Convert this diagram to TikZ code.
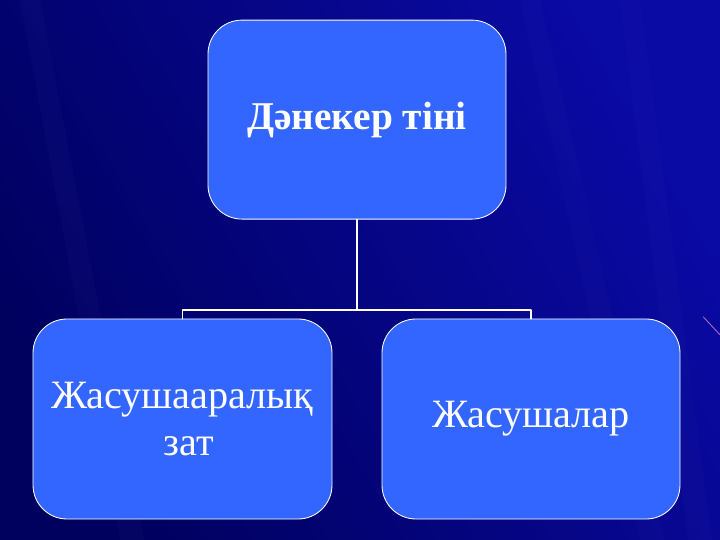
\documentclass[tikz,border=0pt]{standalone}
\usepackage{fontspec}
\setmainfont{Liberation Serif}
\definecolor{boxblue}{RGB}{51,102,255}
\definecolor{bgdark}{RGB}{0,0,95}
\definecolor{bglight}{RGB}{10,10,165}
\begin{document}
\begin{tikzpicture}[line join=round,line cap=round,
		box/.style={draw=white,line width=0.6pt,fill=boxblue,rounded corners=0.85cm,text=white,align=center,font=\fontsize{28.6}{34}\selectfont},
		wire/.style={draw=white,line width=1.2pt}]
			% background
			\shade[left color=bgdark,right color=bglight,shading angle=120] (0,0) rectangle (18,13.5);
			\useasboundingbox (0,0) rectangle (18,13.5);
			\foreach \a/\b in {13/16,15.5/17.2,0.5/3}{\fill[bglight!60!white,opacity=0.04] (\a,13.5)--(\b,0)--(\b+0.6,0)--(\a+0.5,13.5)--cycle;}
			\draw[magenta!40!white,line width=0.6pt,opacity=0.7] (17.58,5.58)--(18,5.13);
			% boxes
			\node[box,minimum width=7.45cm,minimum height=4.975cm,font=\fontsize{28}{34}\selectfont] (root) at (8.925,10.51){\bfseries Дәнекер тіні};
			\node[box,minimum width=7.475cm,minimum height=5cm] (left) at (4.5625,3.025){Жасушааралық\\\hspace*{0.3cm}зат};
			\node[box,minimum width=7.45cm,minimum height=5cm] (right) at (13.275,3.025){Жасушалар};
			% connectors
			\coordinate (bus) at (root.south |- 0,5.75);
			\draw[wire] (root.south)--(bus);
			\draw[wire] (left.north)|-(bus)-|(right.north);
		\end{tikzpicture}
\end{document}
